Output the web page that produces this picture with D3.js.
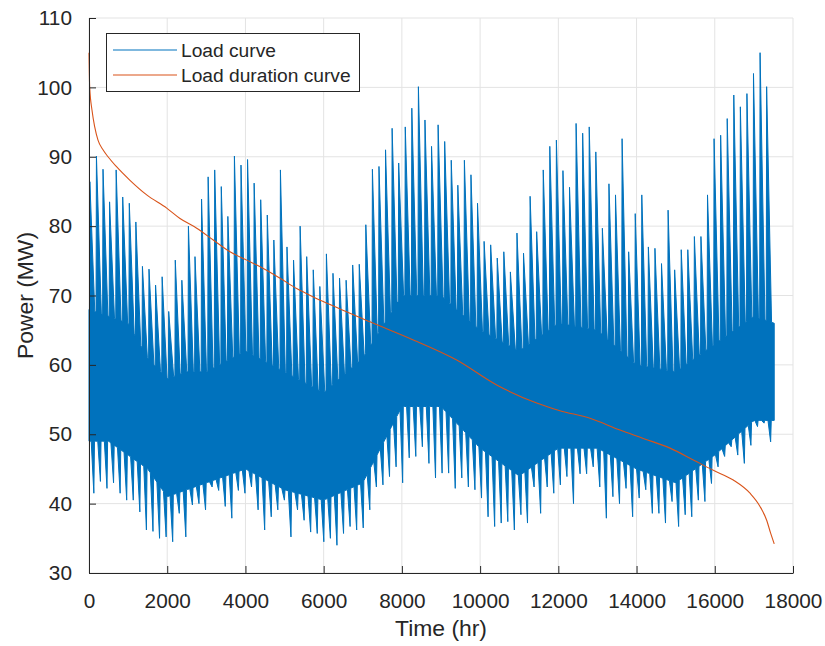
<!DOCTYPE html>
<html>
<head>
<meta charset="utf-8">
<script src="https://cdn.jsdelivr.net/npm/d3@7"></script>
<style>
body { margin: 0; background: #fff; }
text { font-family: "Liberation Sans", Arial, Helvetica, sans-serif; fill: #262626; }
</style>
</head>
<body>
<svg id="chart" width="825" height="646"></svg>
<script>
// weekly peak of the load curve (MW), one per 168 h week
const weekPeak = [86.4, 90.1, 88.2, 83.5, 88.1, 84.2, 83.3, 80.6, 74.2, 73.8,
	71.5, 72.7, 67.7, 75.1, 72.2, 80.0, 75.6, 83.9, 87.1, 88.1,
	85.7, 81.4, 90.1, 88.8, 89.6, 86.2, 83.8, 81.6, 78.0, 88.1,
	77.0, 75.1, 80.0, 75.6, 73.7, 71.3, 76.0, 73.2, 72.5, 72.2,
	74.4, 74.5, 80.2, 88.2, 88.6, 91.0, 94.1, 89.1, 94.3, 97.0,
	100.1, 95.3, 91.5, 94.6, 92.2, 89.5, 85.9, 89.5, 87.4, 83.3,
	77.8, 77.3, 75.4, 76.3, 73.4, 79.0, 76.1, 84.3, 79.2, 88.1,
	91.5, 92.4, 88.0, 85.6, 94.8, 93.4, 94.3, 90.7, 79.7, 86.1,
	84.5, 92.6, 76.3, 81.8, 84.5, 77.0, 76.8, 74.6, 82.3, 73.7,
	76.6, 76.6, 78.5, 78.5, 84.5, 92.6, 93.1, 95.5, 98.9, 97.2,
	99.1, 102.0, 105.0, 100.1]

// weekly minimum of the load curve (MW)
const weekLow = [41.5, 43.2, 42.2, 43.0, 41.5, 40.5, 40.5, 38.8, 36.2, 36.0,
	35.0, 35.2, 34.5, 38.6, 35.2, 39.8, 40.0, 39.1, 42.4, 41.9,
	39.6, 37.9, 41.9, 41.5, 42.4, 39.1, 36.2, 38.1, 39.1, 40.5,
	35.2, 39.1, 37.6, 35.9, 35.7, 34.5, 35.0, 34.0, 35.7, 36.7,
	36.2, 36.5, 39.1, 42.4, 42.7, 43.9, 45.3, 43.0, 46.6, 46.8,
	48.2, 45.8, 43.7, 44.4, 44.4, 42.2, 43.7, 42.4, 42.0, 40.8,
	38.1, 36.7, 37.2, 37.4, 36.2, 38.4, 37.2, 42.4, 38.6, 42.4,
	41.5, 42.7, 43.9, 40.0, 44.3, 44.3, 45.3, 42.4, 37.9, 41.0,
	40.0, 42.2, 38.1, 40.8, 42.0, 38.6, 38.6, 37.2, 40.3, 36.7,
	38.4, 38.1, 40.5, 40.3, 42.9, 45.3, 46.8, 48.2, 47.0, 45.8,
	48.4, 51.1, 51.6, 48.9]

// dense band that the daily swing always covers
const envHours = [0, 500, 1000, 1500, 2000, 2500, 3000, 4000, 5000, 6000, 7000,
	8000, 9000, 10000, 11000, 12000, 13000, 14000, 15000, 16000, 17000, 17520]
const envTop = [68, 67, 66, 61, 58, 59, 59, 62, 59, 56, 61, 70, 70, 65, 62, 66, 65, 60, 59, 63, 67, 66]
const envBot = [49, 49, 47, 45, 41, 42, 43, 45, 42, 40.5, 43, 54, 54, 48, 44, 48, 48, 45, 43, 47, 52, 52]

// load duration curve
const ldcHours = [0, 18, 77, 146, 230, 358, 486, 698, 1048, 1475,
	1987, 2327, 2754, 3178, 3605, 4032, 4456, 4884, 5310, 5735,
	6162, 7185, 8292, 9401, 10424, 11447, 12042, 12810, 13577, 14172,
	14855, 15451, 15962, 16473, 16900, 17156, 17327, 17430, 17520]
const ldcLoad = [105, 100, 96.7, 94.3, 92.4, 91.0, 90.0, 88.6, 86.6, 84.5,
	82.6, 81.1, 79.7, 78.0, 76.3, 75.1, 73.9, 72.5, 71.0, 69.8,
	68.7, 66.2, 63.6, 60.7, 57.1, 54.5, 53.4, 52.3, 50.6, 49.4,
	48.0, 46.3, 44.8, 43.4, 41.5, 39.6, 37.6, 35.7, 34.2]

const xTicks = [0, 2000, 4000, 6000, 8000, 10000, 12000, 14000, 16000, 18000]
const yTicks = [30, 40, 50, 60, 70, 80, 90, 100, 110]
const names = ["Load curve", "Load duration curve"]
const colors = ["#0072BD", "#D95319"]

const svg = d3.select("#chart")
const mLeft = 89, mRight = 793, mTop = 18, mBottom = 573

let x = d3.scaleLinear().domain([0, 18000]).range([mLeft, mRight])
let y = d3.scaleLinear().domain([30, 110]).range([mBottom, mTop])

// grid
svg.append("g").selectAll("line")
	.data(xTicks).enter().append("line")
	.attr("x1", d => x(d)).attr("x2", d => x(d))
	.attr("y1", mTop).attr("y2", mBottom)
	.attr("stroke", "#e3e3e3").attr("stroke-width", 1)
svg.append("g").selectAll("line")
	.data(yTicks).enter().append("line")
	.attr("x1", mLeft).attr("x2", mRight)
	.attr("y1", d => y(d)).attr("y2", d => y(d))
	.attr("stroke", "#e3e3e3").attr("stroke-width", 1)

// load curve: band with a sawtooth of weekly peaks above and weekly lows below
const topAt = d3.scaleLinear().domain(envHours).range(envTop)
const botAt = d3.scaleLinear().domain(envHours).range(envBot)
let upper = [], lower = []
weekPeak.forEach((pk, w) => {
	let b = w * 168
	upper.push([b, topAt(b)], [b + 12, topAt(b + 12)], [b + 22, pk], [b + 148, topAt(b + 148)])
	lower.push([b, botAt(b)], [b + 56, botAt(b + 56)], [b + 124, weekLow[w]], [b + 140, botAt(b + 140)])
})
upper.push([17520, topAt(17520)])
lower.push([17520, botAt(17520)])

let loadLine = d3.line()
	.x(d => x(d[0]))
	.y(d => y(d[1]))

svg.append("path")
	.attr("d", loadLine(upper.concat(lower.slice().reverse())) + "Z")
	.attr("fill", colors[0])
	.attr("stroke", colors[0])
	.attr("stroke-width", 1)
	.attr("stroke-linejoin", "round")

// load duration curve
let ldcLine = d3.line()
	.x((d, i) => x(ldcHours[i]))
	.y(d => y(d))
	.curve(d3.curveMonotoneX)

svg.append("path")
	.datum(ldcLoad)
	.attr("d", ldcLine)
	.attr("fill", "none")
	.attr("stroke", colors[1])
	.attr("stroke-width", 1.1)

// axes
let xAxis = d3.axisBottom(x).tickValues(xTicks).tickSizeInner(-7).tickSizeOuter(0).tickPadding(20).tickFormat(d3.format("d"))
let yAxis = d3.axisLeft(y).tickValues(yTicks).tickSizeInner(-7).tickSizeOuter(0).tickPadding(17)

let xG = svg.append("g")
	.attr("transform", "translate(0," + mBottom + ")")
	.call(xAxis)
let yG = svg.append("g")
	.attr("transform", "translate(" + mLeft + ",0)")
	.call(yAxis)

svg.selectAll(".domain").attr("stroke", "#262626")
svg.selectAll(".tick line").attr("stroke", "#262626")
svg.selectAll(".tick text")
	.attr("fill", "#262626")
	.style("font-size", "20.8px")
	.style("font-family", "'Liberation Sans', Arial, sans-serif")

svg.append("text")
	.attr("x", (mLeft + mRight) / 2)
	.attr("y", 636)
	.attr("text-anchor", "middle")
	.style("font-size", "22.9px")
	.text("Time (hr)")

svg.append("text")
	.attr("transform", "translate(33," + (mTop + mBottom) / 2 + ") rotate(-90)")
	.attr("text-anchor", "middle")
	.style("font-size", "22.9px")
	.text("Power (MW)")

// legend
let lg = svg.append("g")
lg.append("rect")
	.attr("x", 106.5).attr("y", 33.5)
	.attr("width", 253).attr("height", 58)
	.attr("fill", "#fff").attr("stroke", "#262626").attr("stroke-width", 1)

names.forEach((n, i) => {
	let ly = 50 + i * 25
	lg.append("line")
		.attr("x1", 113).attr("x2", 177)
		.attr("y1", ly).attr("y2", ly)
		.attr("stroke", colors[i]).attr("stroke-width", 1.1)
	lg.append("text")
		.attr("x", 181)
		.attr("y", ly + 7)
		.style("font-size", "19.2px")
		.text(n)
})
</script>
</body>
</html>
